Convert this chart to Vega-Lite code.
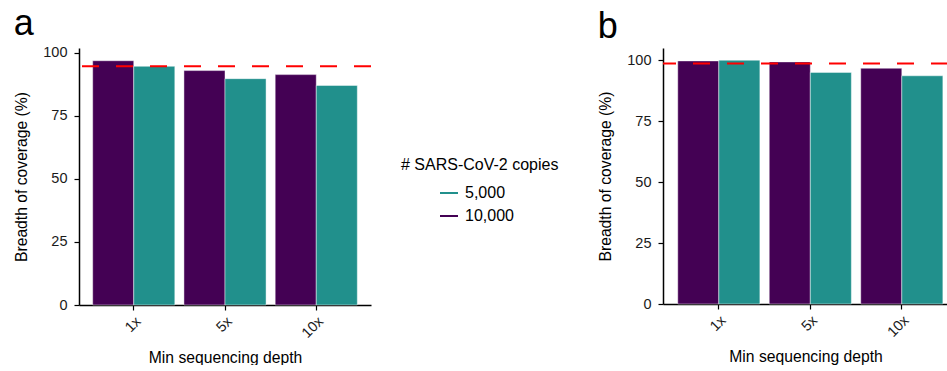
{
  "$schema": "https://vega.github.io/schema/vega-lite/v6.json",
  "padding": {"left": 13, "top": 5, "right": 0, "bottom": 0},
  "bounds": "flush",
  "spacing": 292,
  "background": "white",
  "config": {
    "font": "Liberation Sans",
    "view": {"stroke": null},
    "axis": {
      "grid": false,
      "domainColor": "black",
      "domainWidth": 1.5,
      "tickColor": "black",
      "tickWidth": 1.2,
      "tickSize": 5,
      "labelColor": "#1a1a1a",
      "labelFontSize": 14.5,
      "labelFont": "Liberation Sans",
      "titleFont": "Liberation Sans",
      "titleFontSize": 15.7,
      "titleFontWeight": "normal",
      "titleColor": "black"
    },
    "axisY": {"labelPadding": 7, "titlePadding": 13},
    "axisX": {"labelPadding": 4, "titlePadding": 10},
    "title": {"font": "Liberation Sans", "fontSize": 36, "fontWeight": "normal", "color": "black", "anchor": "start", "frame": "bounds", "baseline": "alphabetic"}
  },
  "datasets": {
    "bars": [
      {"panel": "a", "depth": "1x", "copies": "10,000", "coverage": 96.8},
      {"panel": "a", "depth": "1x", "copies": "5,000", "coverage": 94.6},
      {"panel": "a", "depth": "5x", "copies": "10,000", "coverage": 92.9},
      {"panel": "a", "depth": "5x", "copies": "5,000", "coverage": 89.7},
      {"panel": "a", "depth": "10x", "copies": "10,000", "coverage": 91.3},
      {"panel": "a", "depth": "10x", "copies": "5,000", "coverage": 87.0},
      {"panel": "b", "depth": "1x", "copies": "10,000", "coverage": 99.7},
      {"panel": "b", "depth": "1x", "copies": "5,000", "coverage": 100.0},
      {"panel": "b", "depth": "5x", "copies": "10,000", "coverage": 99.3},
      {"panel": "b", "depth": "5x", "copies": "5,000", "coverage": 95.0},
      {"panel": "b", "depth": "10x", "copies": "10,000", "coverage": 96.7},
      {"panel": "b", "depth": "10x", "copies": "5,000", "coverage": 93.6}
    ],
    "refs": [
      {"panel": "a", "threshold": 94.6},
      {"panel": "b", "threshold": 98.6}
    ]
  },
  "hconcat": [
    {
      "width": 292,
      "height": 257,
      "title": {"text": "a", "offset": 2},
      "layer": [
        {
          "data": {"name": "bars"},
          "transform": [{"filter": "datum.panel === 'a'"}],
          "mark": {"type": "bar", "stroke": "white", "strokeOpacity": 0.45, "strokeWidth": 1},
          "encoding": {
            "x": {"field": "depth", "type": "nominal", "sort": ["1x", "5x", "10x"],
                  "scale": {"paddingInner": 0.1, "paddingOuter": 0.15},
                  "axis": {"title": "Min sequencing depth", "labelAngle": -45, "labelAlign": "right", "labelBaseline": "top"}},
            "xOffset": {"field": "copies", "type": "nominal", "sort": ["10,000", "5,000"], "scale": {"paddingInner": 0, "paddingOuter": 0}},
            "y": {"field": "coverage", "type": "quantitative",
                  "scale": {"domain": [0, 101.85], "nice": false, "zero": true},
                  "axis": {"title": "Breadth of coverage (%)", "values": [0, 25, 50, 75, 100]}},
            "color": {"field": "copies", "type": "nominal",
                      "scale": {"domain": ["5,000", "10,000"], "range": ["#21908C", "#440154"]},
                      "legend": {"title": "# SARS-CoV-2 copies", "orient": "none", "legendX": 322, "legendY": 109,
                                 "symbolType": "stroke", "symbolStrokeWidth": 2, "symbolSize": 324, "symbolOpacity": 1,
                                 "symbolOffset": 38, "labelOffset": 6,
                                 "titleFontSize": 16, "titleFontWeight": "normal", "titleColor": "black",
                                 "labelFontSize": 16, "labelColor": "black", "titlePadding": 10, "rowPadding": 5,
                                 "encoding": {"symbols": {
                                   "stroke": {"condition": {"test": "datum.value === '5,000'", "value": "#21908C"}, "value": "#440154"},
                                   "strokeWidth": {"value": 2},
                                   "strokeOpacity": {"value": 1}
                                 }}}}
          }
        },
        {
          "data": {"name": "refs"},
          "transform": [{"filter": "datum.panel === 'a'"}],
          "mark": {"type": "rule", "color": "#FF0000", "strokeWidth": 2, "strokeDash": [17, 17]},
          "encoding": {"y": {"field": "threshold", "type": "quantitative"}}
        }
      ]
    },
    {
      "width": 285,
      "height": 256,
      "title": {"text": "b", "offset": 2},
      "layer": [
        {
          "data": {"name": "bars"},
          "transform": [{"filter": "datum.panel === 'b'"}],
          "mark": {"type": "bar", "stroke": "white", "strokeOpacity": 0.45, "strokeWidth": 1},
          "encoding": {
            "x": {"field": "depth", "type": "nominal", "sort": ["1x", "5x", "10x"],
                  "scale": {"paddingInner": 0.1, "paddingOuter": 0.1075, "align": 0.75},
                  "axis": {"title": "Min sequencing depth", "labelAngle": -45, "labelAlign": "right", "labelBaseline": "top"}},
            "xOffset": {"field": "copies", "type": "nominal", "sort": ["10,000", "5,000"], "scale": {"paddingInner": 0, "paddingOuter": 0}},
            "y": {"field": "coverage", "type": "quantitative",
                  "scale": {"domain": [0, 105], "nice": false, "zero": true},
                  "axis": {"title": "Breadth of coverage (%)", "values": [0, 25, 50, 75, 100]}},
            "color": {"field": "copies", "type": "nominal",
                      "scale": {"domain": ["5,000", "10,000"], "range": ["#21908C", "#440154"]}}
          }
        },
        {
          "data": {"name": "refs"},
          "transform": [{"filter": "datum.panel === 'b'"}],
          "mark": {"type": "rule", "color": "#FF0000", "strokeWidth": 2, "strokeDash": [17, 17]},
          "encoding": {"y": {"field": "threshold", "type": "quantitative"}}
        }
      ]
    }
  ]
}
